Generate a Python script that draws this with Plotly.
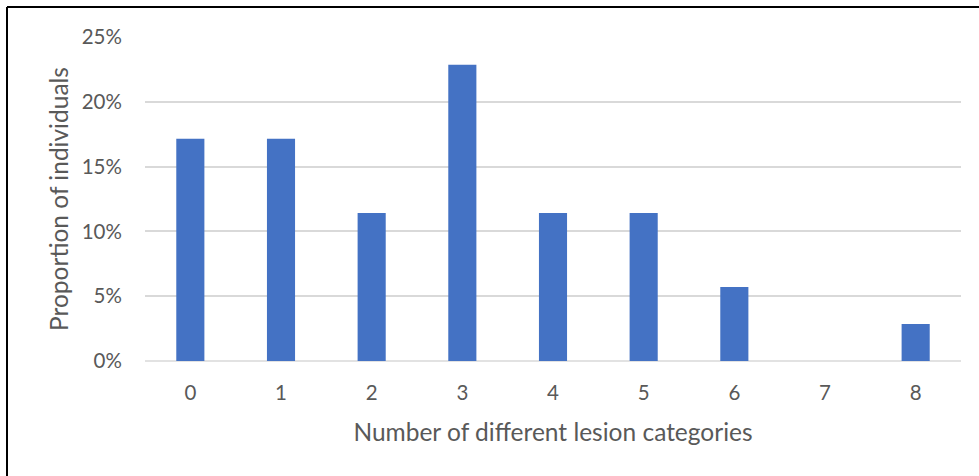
import plotly.graph_objects as go

categories = ["0", "1", "2", "3", "4", "5", "6", "7", "8"]
proportions = [6/35, 6/35, 4/35, 8/35, 4/35, 4/35, 2/35, 0.0, 1/35]
y_ticks = [0, 0.05, 0.10, 0.15, 0.20, 0.25]
y_tick_labels = ["0%", "5%", "10%", "15%", "20%", "25%"]

FONT = "Lato"
GRAY = "#595959"

fig = go.Figure(
    go.Bar(
        x=categories,
        y=proportions,
        marker=dict(color="#4472C4", line=dict(width=0)),
        width=0.31,
    )
)

fig.update_layout(
    width=979,
    height=476,
    margin=dict(l=145, r=18, t=37, b=115),
    paper_bgcolor="white",
    plot_bgcolor="white",
    showlegend=False,
    font=dict(family=FONT, color=GRAY),
    xaxis=dict(
        type="category",
        range=[-0.5, 8.5],
        showgrid=False,
        showline=False,
        zeroline=False,
        ticks="outside",
        ticklen=13,
        tickcolor="rgba(0,0,0,0)",
        tickfont=dict(size=20.5, color=GRAY, family=FONT),
        title=dict(text="Number of different lesion categories",
                   font=dict(size=24.5, color=GRAY, family=FONT), standoff=21),
    ),
    yaxis=dict(
        range=[0, 0.25],
        tickvals=y_ticks,
        ticktext=y_tick_labels,
        showgrid=True,
        gridcolor="#d9d9d9",
        gridwidth=1.5,
        zeroline=False,
        showline=False,
        ticks="outside",
        ticklen=18,
        tickcolor="rgba(0,0,0,0)",
        tickfont=dict(size=20.5, color=GRAY, family=FONT),
        title=dict(text="Proportion of individuals",
                   font=dict(size=24.5, color=GRAY, family=FONT), standoff=6),
    ),
    shapes=[
        dict(type="line", xref="paper", yref="paper", x0=0, x1=1, y0=0, y1=0,
             line=dict(color="#d9d9d9", width=1.5), layer="below"),
        dict(type="line", xref="paper", yref="paper",
             x0=(7 - 145) / 816, x1=1.2, y0=(361 - 7) / 324, y1=(361 - 7) / 324,
             line=dict(color="black", width=2)),
        dict(type="line", xref="paper", yref="paper",
             x0=(7 - 145) / 816, x1=(7 - 145) / 816, y0=(361 - 7) / 324, y1=-0.5,
             line=dict(color="black", width=2)),
    ],
)

fig.write_html(
    "out.html",
    config={"displayModeBar": False},
    post_script="document.body.style.margin='0';document.body.style.overflow='hidden';",
)
